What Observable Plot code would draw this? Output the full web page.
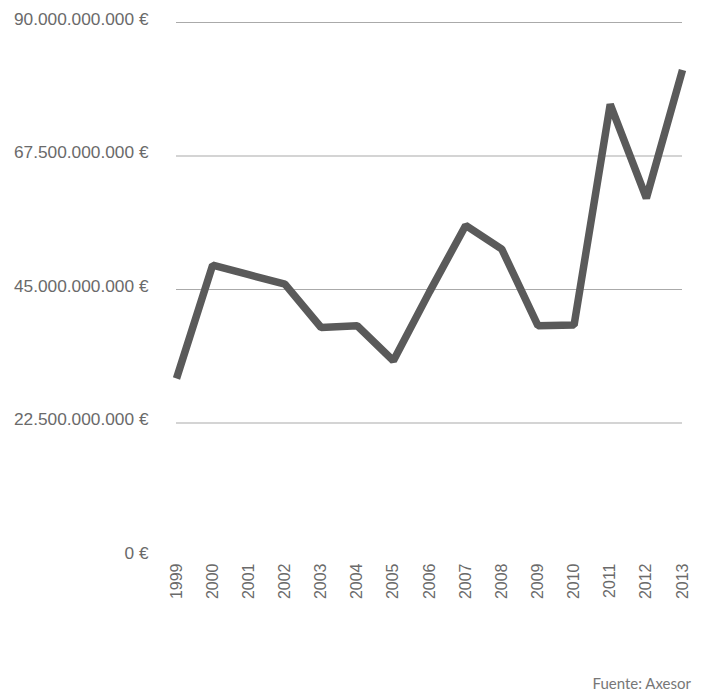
<!DOCTYPE html>
<html>
<head>
<meta charset="utf-8">
<script src="https://cdn.jsdelivr.net/npm/d3@7"></script>
<script src="https://cdn.jsdelivr.net/npm/@observablehq/plot@0.6"></script>
<style>
  html, body { margin: 0; padding: 0; background: #fff; }
  #chart { width: 704px; }
  #caption {
    width: 704px; box-sizing: border-box; text-align: right;
    padding-right: 13px; margin-top: 35px;
    font-family: Lato, "Open Sans", sans-serif; font-size: 15px; line-height: 17px;
    color: #777;
  }
</style>
</head>
<body>
<div id="chart"></div>
<div id="caption">Fuente: Axesor</div>
<script>
const years = [1999, 2000, 2001, 2002, 2003, 2004, 2005, 2006, 2007, 2008, 2009, 2010, 2011, 2012, 2013];
const values = [30.0e9, 49.1e9, 47.5e9, 45.9e9, 38.6e9, 38.9e9, 33.0e9, 44.6e9, 55.8e9, 51.8e9, 38.9e9, 39.0e9, 76.2e9, 60.4e9, 82.0e9];
const yTicks = [0, 22.5e9, 45e9, 67.5e9, 90e9];
const gridTicks = [22.5e9, 45e9, 67.5e9, 90e9];

const data = years.map((y, i) => ({year: y, value: values[i]}));
const fmt = v => d3.format(",.0f")(v).replace(/,/g, ".") + " €";

const chart = Plot.plot({
  width: 704,
  height: 640,
  marginLeft: 176,
  marginRight: 22,
  marginTop: 22,
  marginBottom: 84,
  style: {fontFamily: '"Liberation Sans", Arial, sans-serif', color: "#666", background: "#fff"},
  x: {type: "linear", domain: [1999, 2013]},
  y: {domain: [0, 90e9]},
  marks: [
    Plot.gridY(gridTicks, {stroke: "#aaa", strokeOpacity: 1, strokeWidth: 1.2}),
    Plot.axisY(yTicks, {tickSize: 0, tickPadding: 28, tickFormat: fmt, fontSize: 17.3, dy: -3.5, fill: "#6a6a6a", label: null}),
    Plot.axisX(years, {tickSize: 0, tickPadding: 7, tickRotate: -90, tickFormat: d => String(d), fontSize: 16, fill: "#6a6a6a", label: null}),
    Plot.line(data, {x: "year", y: "value", stroke: "#5a5a5a", strokeWidth: 7.5, strokeLinejoin: "miter", strokeLinecap: "butt"})
  ]
});
document.getElementById("chart").appendChild(chart);
</script>
</body>
</html>
